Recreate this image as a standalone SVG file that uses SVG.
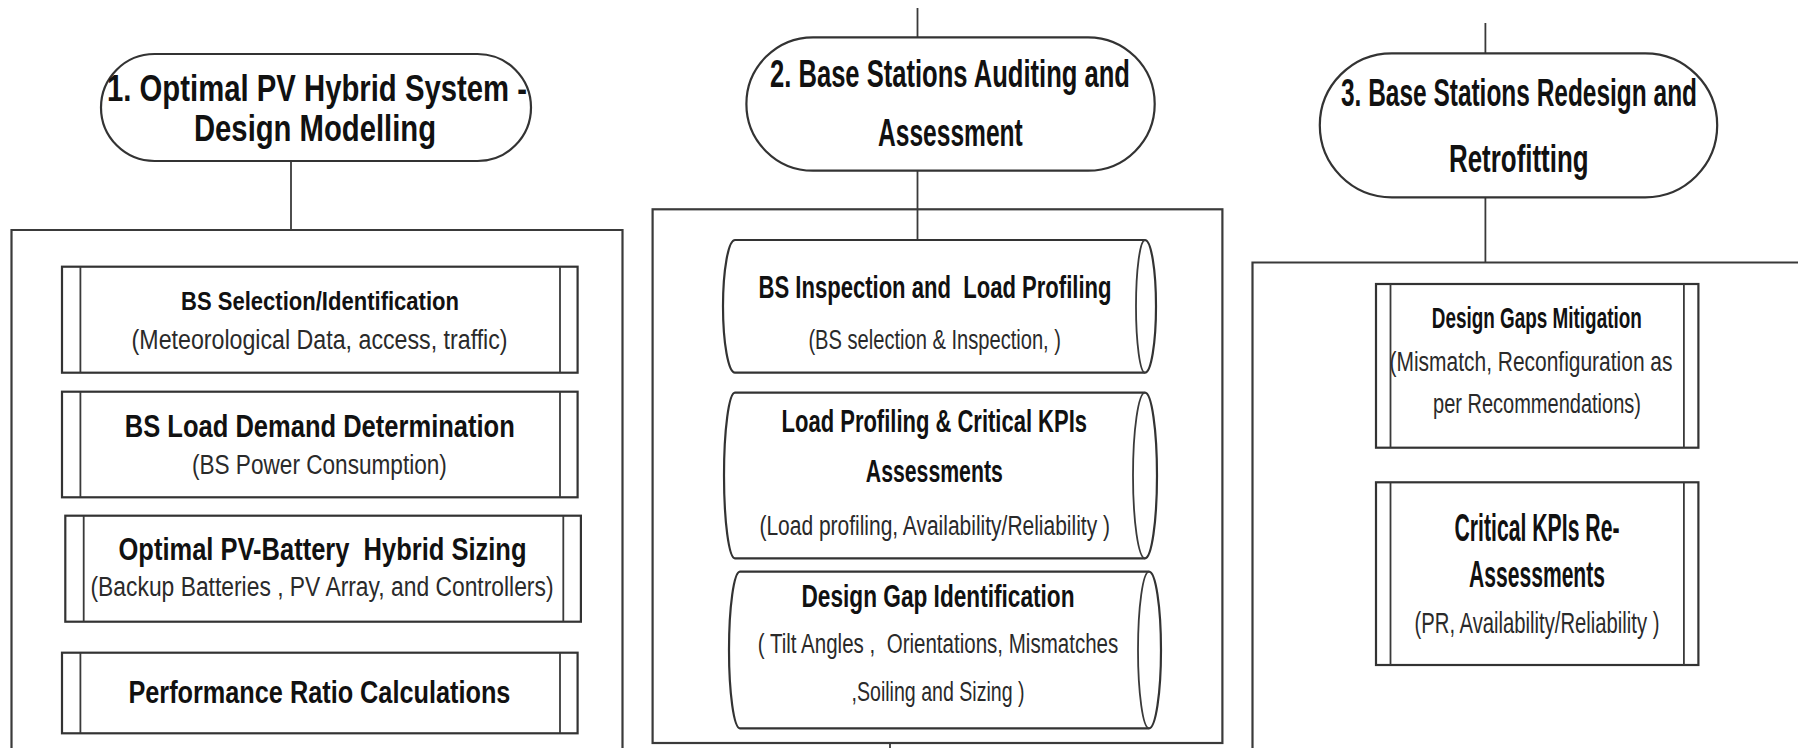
<svg xmlns="http://www.w3.org/2000/svg" width="1798" height="748" viewBox="0 0 1798 748">
<style>
  .shape { fill: #ffffff; stroke: #333333; stroke-width: 2.2; }
  .open { fill: none; stroke: #3a3a3a; stroke-width: 2.2; }
  .edge { fill: none; stroke: #3a3a3a; stroke-width: 1.8; }
  text { font-family: "Liberation Sans Narrow", "Liberation Sans", Arial, sans-serif; text-anchor: middle; }
  .h { font-weight: bold; fill: #111111; }
  .s { font-weight: normal; fill: #2a2a2a; }
</style>
<rect x="0" y="0" width="1798" height="748" fill="#ffffff"/>

<g id="connectors">
  <line class="edge" x1="291" y1="161" x2="291" y2="230"/>
  <line class="edge" x1="917.5" y1="8" x2="917.5" y2="37.5"/>
  <line class="edge" x1="917.5" y1="170.7" x2="917.5" y2="240"/>
  <line class="edge" x1="890" y1="743" x2="890" y2="750"/>
  <line class="edge" x1="1485.4" y1="23" x2="1485.4" y2="53.3"/>
  <line class="edge" x1="1485.4" y1="197.3" x2="1485.4" y2="262.5"/>
</g>

<!-- Panel 1 -->
<g id="panel1-container">
  <path class="open" d="M11.5,760 V230 H622.5 V760"/>
</g>
<g id="stage1">
  <rect class="shape" x="101" y="54" width="430" height="107" rx="53.5" ry="53.5"/>
  <text class="h" x="317" y="100.5" font-size="36" textLength="420" lengthAdjust="spacingAndGlyphs">1. Optimal PV Hybrid System -</text>
  <text class="h" x="315" y="141" font-size="36" textLength="242" lengthAdjust="spacingAndGlyphs">Design Modelling</text>
</g>
<g id="bs-selection">
  <rect class="shape" x="62" y="266.7" width="515.6" height="106"/>
  <line class="edge" x1="80.4" y1="266.7" x2="80.4" y2="372.7"/>
  <line class="edge" x1="560" y1="266.7" x2="560" y2="372.7"/>
  <text class="h" x="320" y="309.7" font-size="26" textLength="278" lengthAdjust="spacingAndGlyphs">BS Selection/Identification</text>
  <text class="s" x="319.6" y="349" font-size="27" textLength="376" lengthAdjust="spacingAndGlyphs">(Meteorological Data, access, traffic)</text>
</g>
<g id="bs-load-demand">
  <rect class="shape" x="62" y="391.7" width="515.6" height="105.6"/>
  <line class="edge" x1="80.4" y1="391.7" x2="80.4" y2="497.3"/>
  <line class="edge" x1="560" y1="391.7" x2="560" y2="497.3"/>
  <text class="h" x="319.8" y="436.5" font-size="31" textLength="390" lengthAdjust="spacingAndGlyphs">BS Load Demand Determination</text>
  <text class="s" x="319.4" y="474.1" font-size="27" textLength="255" lengthAdjust="spacingAndGlyphs">(BS Power Consumption)</text>
</g>
<g id="pv-battery-sizing">
  <rect class="shape" x="65.3" y="515.7" width="515.6" height="106"/>
  <line class="edge" x1="83.7" y1="515.7" x2="83.7" y2="621.7"/>
  <line class="edge" x1="563.3" y1="515.7" x2="563.3" y2="621.7"/>
  <text class="h" x="322.5" y="560.4" font-size="31" textLength="408" lengthAdjust="spacingAndGlyphs" xml:space="preserve">Optimal PV-Battery  Hybrid Sizing</text>
  <text class="s" x="322" y="595.7" font-size="27" textLength="463" lengthAdjust="spacingAndGlyphs">(Backup Batteries , PV Array, and Controllers)</text>
</g>
<g id="performance-ratio">
  <rect class="shape" x="62" y="652.7" width="515.6" height="80.6"/>
  <line class="edge" x1="80.4" y1="652.7" x2="80.4" y2="733.3"/>
  <line class="edge" x1="560" y1="652.7" x2="560" y2="733.3"/>
  <text class="h" x="319.4" y="702.5" font-size="31" textLength="382" lengthAdjust="spacingAndGlyphs">Performance Ratio Calculations</text>
</g>

<!-- Panel 2 -->
<g id="panel2-container">
  <rect class="open" x="652.6" y="209.3" width="569.8" height="533.7"/>
</g>
<g id="stage2">
  <rect class="shape" x="746.4" y="37.3" width="408.3" height="133.4" rx="66.7" ry="66.7"/>
  <text class="h" x="950" y="87.3" font-size="38" textLength="360" lengthAdjust="spacingAndGlyphs">2. Base Stations Auditing and</text>
  <text class="h" x="950.4" y="145.7" font-size="38" textLength="144.7" lengthAdjust="spacingAndGlyphs">Assessment</text>
</g>
<g id="bs-inspection">
  <path class="shape" d="M735,240 H1145 A11,66.35 0 0 1 1145,372.7 H735 A12,66.35 0 0 1 735,240 Z"/>
  <path class="edge" d="M1145,240 A9,66.35 0 0 0 1145,372.7"/>
  <text class="h" x="935" y="297.8" font-size="31" textLength="353" lengthAdjust="spacingAndGlyphs" xml:space="preserve">BS Inspection and  Load Profiling</text>
  <text class="s" x="934.7" y="349" font-size="27" textLength="252.6" lengthAdjust="spacingAndGlyphs">(BS selection &amp; Inspection, )</text>
</g>
<g id="kpi-assessment">
  <path class="shape" d="M735,392.7 H1145 A12,82.8 0 0 1 1145,558.3 H735 A11,82.8 0 0 1 735,392.7 Z"/>
  <path class="edge" d="M1145,392.7 A12,82.8 0 0 0 1145,558.3"/>
  <text class="h" x="934.3" y="432.3" font-size="32" textLength="305.4" lengthAdjust="spacingAndGlyphs">Load Profiling &amp; Critical KPIs</text>
  <text class="h" x="934.3" y="481.5" font-size="32" textLength="137" lengthAdjust="spacingAndGlyphs">Assessments</text>
  <text class="s" x="934.7" y="534.7" font-size="27" textLength="350.6" lengthAdjust="spacingAndGlyphs">(Load profiling, Availability/Reliability )</text>
</g>
<g id="design-gap-identification">
  <path class="shape" d="M740,571.7 H1149 A12,78.3 0 0 1 1149,728.3 H740 A11,78.3 0 0 1 740,571.7 Z"/>
  <path class="edge" d="M1149,571.7 A11,78.3 0 0 0 1149,728.3"/>
  <text class="h" x="938" y="606.5" font-size="32" textLength="273" lengthAdjust="spacingAndGlyphs">Design Gap Identification</text>
  <text class="s" x="938" y="652.7" font-size="27" textLength="360.5" lengthAdjust="spacingAndGlyphs" xml:space="preserve">( Tilt Angles ,  Orientations, Mismatches</text>
  <text class="s" x="938" y="701.2" font-size="27" textLength="173" lengthAdjust="spacingAndGlyphs">,Soiling and Sizing )</text>
</g>

<!-- Panel 3 -->
<g id="panel3-container">
  <path class="open" d="M1252.5,760 V262.5 H1800"/>
</g>
<g id="stage3">
  <rect class="shape" x="1319.8" y="53.3" width="397.4" height="144" rx="72" ry="72"/>
  <text class="h" x="1519" y="106" font-size="39" textLength="356" lengthAdjust="spacingAndGlyphs">3. Base Stations Redesign and</text>
  <text class="h" x="1518.8" y="171.7" font-size="39" textLength="139.6" lengthAdjust="spacingAndGlyphs">Retrofitting</text>
</g>
<g id="design-gaps-mitigation">
  <rect class="shape" x="1376" y="284" width="322.4" height="163.7"/>
  <line class="edge" x1="1390.5" y1="284" x2="1390.5" y2="447.7"/>
  <line class="edge" x1="1683.9" y1="284" x2="1683.9" y2="447.7"/>
  <text class="h" x="1536.8" y="327.5" font-size="30" textLength="210" lengthAdjust="spacingAndGlyphs">Design Gaps Mitigation</text>
  <text class="s" x="1531" y="371" font-size="27" textLength="283" lengthAdjust="spacingAndGlyphs">(Mismatch, Reconfiguration as</text>
  <text class="s" x="1537" y="413" font-size="27" textLength="208" lengthAdjust="spacingAndGlyphs">per Recommendations)</text>
</g>
<g id="kpi-reassessment">
  <rect class="shape" x="1376" y="482.3" width="322.4" height="182.7"/>
  <line class="edge" x1="1390.5" y1="482.3" x2="1390.5" y2="665"/>
  <line class="edge" x1="1683.9" y1="482.3" x2="1683.9" y2="665"/>
  <text class="h" x="1537" y="541" font-size="38" textLength="165" lengthAdjust="spacingAndGlyphs">Critical KPIs Re-</text>
  <text class="h" x="1537" y="587.4" font-size="36" textLength="136" lengthAdjust="spacingAndGlyphs">Assessments</text>
  <text class="s" x="1537" y="633.4" font-size="30" textLength="245" lengthAdjust="spacingAndGlyphs">(PR, Availability/Reliability )</text>
</g>
</svg>
